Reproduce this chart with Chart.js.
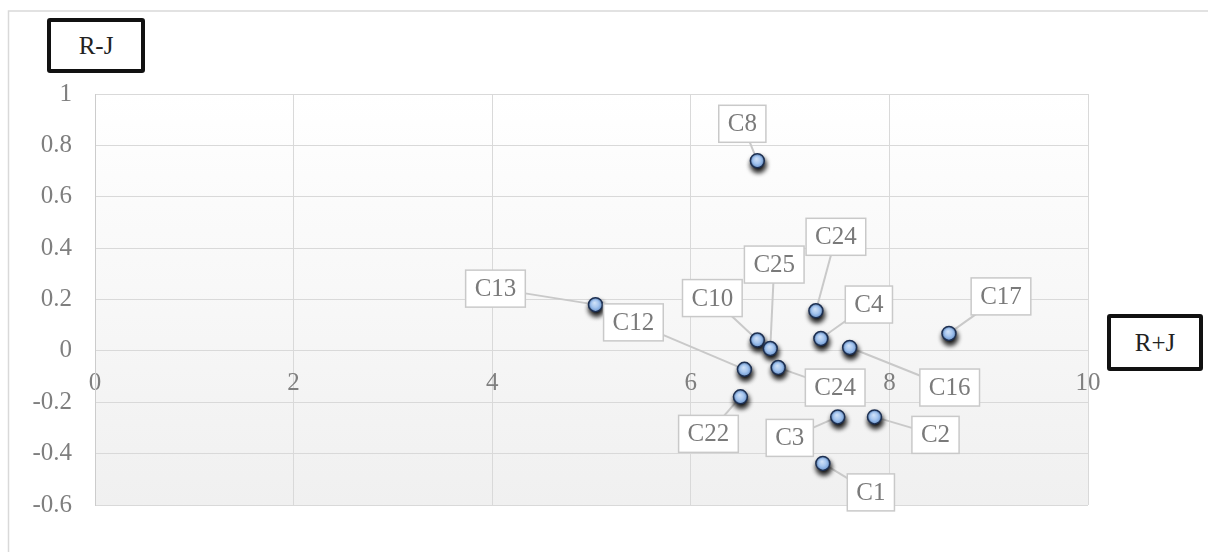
<!DOCTYPE html>
<html>
<head>
<meta charset="utf-8">
<script src="https://cdn.jsdelivr.net/npm/chart.js@4.4.1/dist/chart.umd.min.js"></script>
<style>
  html, body { margin: 0; padding: 0; background: #fff; }
  #wrap { position: relative; width: 1208px; height: 552px; overflow: hidden; }
  #chart { position: absolute; left: 0; top: 0; }
  .axbox {
    position: absolute; box-sizing: border-box; background: #fff;
    border: 4px solid #111; border-radius: 3px;
    font: 25px 'Liberation Serif', 'Times New Roman', serif; color: #222;
    display: flex; align-items: center; justify-content: center;
  }
</style>
</head>
<body>
<div id="wrap">
  <canvas id="chart" width="1208" height="552"></canvas>
  <div class="axbox" style="left:47px;top:18px;width:98px;height:55px;">R-J</div>
  <div class="axbox" style="left:1107px;top:314px;width:96px;height:57px;">R+J</div>
</div>
<script>
// ── Data ────────────────────────────────────────────────────────────────
const LABELS  = ['C8', 'C13', 'C24', 'C10', 'C25', 'C4', 'C16', 'C17', 'C12', 'C24', 'C22', 'C3', 'C2', 'C1'];
const R_PLUS_J  = [6.67, 5.04, 7.26, 6.67, 6.80, 7.31, 7.60, 8.60, 6.54, 6.88, 6.50, 7.48, 7.85, 7.33];
const R_MINUS_J = [0.74, 0.18, 0.156, 0.042, 0.009, 0.048, 0.013, 0.068, -0.072, -0.065, -0.179, -0.257, -0.257, -0.438];
const X_TICKS = [0, 2, 4, 6, 8, 10];
const Y_TICKS = [-0.6, -0.4, -0.2, 0, 0.2, 0.4, 0.6, 0.8, 1];

// label box offsets from each point (px), in the same order as LABELS
const CALLOUT_OFFSETS = [
  [-15, -37], [-100, -16], [20, -74], [-45, -42], [4, -84], [48, -34], [100, 40],
  [52, -37], [-111, -47], [57, 20], [-32, 37], [-48, 21], [61, 18], [48, 29],
];

const SERIF = "'Liberation Serif', 'Times New Roman', serif";
const GRID = '#d9d9d9';
const TICK_COLOR = '#7f7f7f';

const points = R_PLUS_J.map((x, i) => ({ x, y: R_MINUS_J[i] }));

// ── Background: outer frame + plot gradient ─────────────────────────────
const background = {
  id: 'background',
  beforeDraw(chart) {
    const { ctx, chartArea: a } = chart;
    ctx.save();
    ctx.strokeStyle = '#d9d9d9';
    ctx.lineWidth = 1.5;
    ctx.strokeRect(8.5, 11, 1400, 700);
    const g = ctx.createLinearGradient(0, a.top, 0, a.bottom);
    g.addColorStop(0, '#ffffff');
    g.addColorStop(1, '#f0f0f0');
    ctx.fillStyle = g;
    ctx.fillRect(a.left, a.top, a.width, a.height);
    ctx.restore();
  },
};

// ── Callout labels with leader lines, glossy markers ───────────────────
const callouts = {
  id: 'callouts',
  beforeDatasetsDraw(chart) {
    const { ctx } = chart;
    const meta = chart.getDatasetMeta(0);
    ctx.save();
    ctx.strokeStyle = '#c9c9c9';
    ctx.lineWidth = 2;
    meta.data.forEach((pt, i) => {
      const [dx, dy] = CALLOUT_OFFSETS[i];
      ctx.beginPath();
      ctx.moveTo(pt.x, pt.y);
      ctx.lineTo(pt.x + dx, pt.y + dy);
      ctx.stroke();
    });
    ctx.restore();
  },
  beforeDatasetDraw(chart) {
    const { ctx } = chart;
    ctx.save();
    ctx.shadowColor = 'rgba(0,0,0,1)';
    ctx.shadowBlur = 5;
    ctx.shadowOffsetX = 1;
    ctx.shadowOffsetY = 4;
  },
  afterDatasetDraw(chart) {
    const { ctx } = chart;
    ctx.restore();
    // soft highlight on each marker
    chart.getDatasetMeta(0).data.forEach((pt) => {
      const g = ctx.createRadialGradient(pt.x - 1, pt.y - 2, 0, pt.x, pt.y, 6);
      g.addColorStop(0, '#d2e3f8');
      g.addColorStop(0.6, '#a7c6ee');
      g.addColorStop(1, '#79a3dc');
      ctx.beginPath();
      ctx.arc(pt.x, pt.y, 5.6, 0, Math.PI * 2);
      ctx.fillStyle = g;
      ctx.fill();
    });
  },
  afterDatasetsDraw(chart) {
    const { ctx } = chart;
    const meta = chart.getDatasetMeta(0);
    ctx.save();
    ctx.font = '25px ' + SERIF;
    ctx.textAlign = 'center';
    ctx.textBaseline = 'middle';
    meta.data.forEach((pt, i) => {
      const [dx, dy] = CALLOUT_OFFSETS[i];
      const cx = pt.x + dx, cy = pt.y + dy;
      const w = ctx.measureText(LABELS[i]).width + 18;
      const h = 37;
      ctx.fillStyle = '#fff';
      ctx.fillRect(cx - w / 2, cy - h / 2, w, h);
      ctx.strokeStyle = '#c9c9c9';
      ctx.lineWidth = 1.5;
      ctx.strokeRect(cx - w / 2, cy - h / 2, w, h);
      ctx.fillStyle = '#7a7a7a';
      ctx.fillText(LABELS[i], cx, cy + 1);
    });
    ctx.restore();
  },
};

new Chart(document.getElementById('chart'), {
  type: 'scatter',
  data: {
    datasets: [{
      data: points,
      pointRadius: 7,
      pointHoverRadius: 7,
      backgroundColor: '#8db3e2',
      borderColor: '#1c2f52',
      borderWidth: 1.5,
    }],
  },
  options: {
    responsive: false,
    animation: false,
    layout: { padding: { left: 0, top: 94, right: 120, bottom: 47 } },
    plugins: { legend: { display: false }, tooltip: { enabled: false } },
    scales: {
      x: {
        type: 'linear',
        min: X_TICKS[0],
        max: X_TICKS[X_TICKS.length - 1],
        position: { y: 0 },
        afterFit(s) { s.height = 0; },
        afterBuildTicks(s) { s.ticks = X_TICKS.map((v) => ({ value: v })); },
        ticks: {
          color: TICK_COLOR, font: { family: SERIF, size: 25 }, padding: 18,
          callback: (v) => String(v),
        },
        grid: { color: GRID, drawTicks: false },
        border: { color: GRID },
      },
      y: {
        min: Y_TICKS[0],
        max: Y_TICKS[Y_TICKS.length - 1],
        afterFit(s) { s.width = 95; },
        afterBuildTicks(s) { s.ticks = Y_TICKS.map((v) => ({ value: v })); },
        ticks: {
          color: TICK_COLOR, font: { family: SERIF, size: 25 }, padding: 23,
          callback: (v) => String(Number(v.toFixed(1))),
        },
        grid: { color: GRID, drawTicks: false },
        border: { color: '#cccccc' },
      },
    },
  },
  plugins: [background, callouts],
});
</script>
</body>
</html>
